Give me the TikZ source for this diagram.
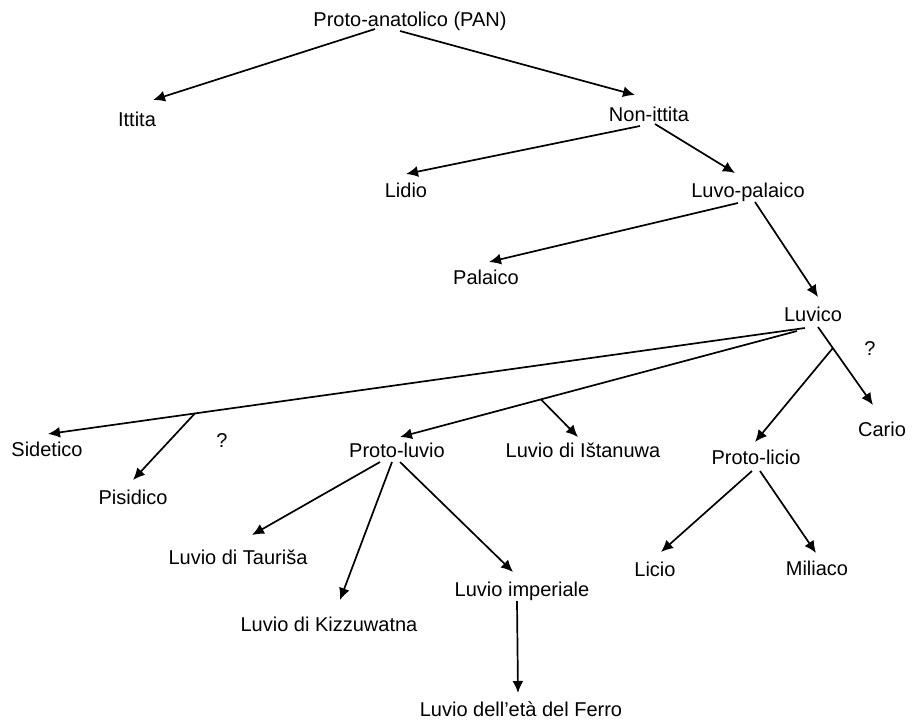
\documentclass[tikz,border=0pt]{standalone}
\usepackage{fontspec}
\setmainfont{Liberation Sans}
\usetikzlibrary{calc,arrows.meta}

\begin{document}
\begin{tikzpicture}[x=1pt,y=-1pt,
  every node/.style={font=\fontsize{20}{24}\selectfont,inner sep=0pt,text height=14.3pt,text depth=0pt},
  every path/.style={line width=1.7pt},
  link/.style={-{Latex[length=12pt,width=11pt]}}]
\useasboundingbox (0,0) rectangle (914,723);

\node (pan) at (410,19) {Proto-anatolico (PAN)};
\node (ittita) at (137,119) {Ittita};
\node (nonitt) at (649,114) {Non-ittita};
\node (lidio) at (406,190) {Lidio};
\node (luvopal) at (748,190) {Luvo-palaico};
\node (palaico) at (486,277) {Palaico};
\node (luvico) at (813,314) {Luvico};

\node (sidetico) at (47,449) {Sidetico};
\node (pisidico) at (133,497) {Pisidico};
\node (qa) at (222,440) {?};
\node (protoluvio) at (397,450) {Proto-luvio};
\node (istanuwa) at (583,450) {Luvio di Ištanuwa};
\node (protolicio) at (756,457) {Proto-licio};
\node (cario) at (882,429) {Cario};
\node (qb) at (870,348) {?};

\node (taurisa) at (238,557) {Luvio di Tauriša};
\node (kizzu) at (329,624) {Luvio di Kizzuwatna};
\node (imperiale) at (522,589) {Luvio imperiale};
\node (ferro) at (521,709) {Luvio dell’età del Ferro};
\node (licio) at (655,569) {Licio};
\node (miliaco) at (817,568) {Miliaco};

% top of the tree
\draw[link] ($(pan)+(-35,10)$) -- ($(ittita)+(16,-19)$);
\draw[link] ($(pan)+(-10,12)$) -- ($(nonitt)+(-14,-19)$);
\draw[link] ($(nonitt)+(-9,12)$) -- ($(lidio)+(0,-16)$);
\draw[link] ($(nonitt)+(6,10)$) -- ($(luvopal)+(-13,-17)$);
\draw[link] ($(luvopal)+(-10,13)$) -- ($(palaico)+(3,-15)$);
\draw[link] ($(luvopal)+(7,12)$) -- ($(luvico)+(5,-17)$);

% Luvico branches
\draw[link] ($(luvico)+(-8,14)$) -- coordinate[pos=.806] (sidej) ($(sidetico)+(1,-15)$);
\draw[link] (sidej) -- ($(pisidico)+(0,-17)$);
\draw[link] ($(luvico)+(-16,17)$) -- coordinate[pos=.645] (istj) ($(protoluvio)+(3,-13)$);
\draw[link] (istj) -- ($(istanuwa)+(-5,-13)$);
\draw[link] ($(luvico)+(5,13)$) -- coordinate[pos=.27] (carj) ($(cario)+(-9,-24)$);
\draw[link] (carj) -- ($(protolicio)+(-1,-15)$);

% Proto-licio
\draw[link] ($(protolicio)+(-4,14)$) -- ($(licio)+(6,-17)$);
\draw[link] ($(protolicio)+(4,14)$) -- ($(miliaco)+(-1,-15)$);

% Proto-luvio
\draw[link] ($(protoluvio)+(-17,12)$) -- ($(taurisa)+(14,-22)$);
\draw[link] ($(protoluvio)+(-5,12)$) -- ($(kizzu)+(11,-24)$);
\draw[link] ($(protoluvio)+(3,12)$) -- ($(imperiale)+(-9,-17)$);
\draw[link] ($(imperiale)+(-5,12)$) -- ($(ferro)+(-3,-16)$);
\end{tikzpicture}
\end{document}
